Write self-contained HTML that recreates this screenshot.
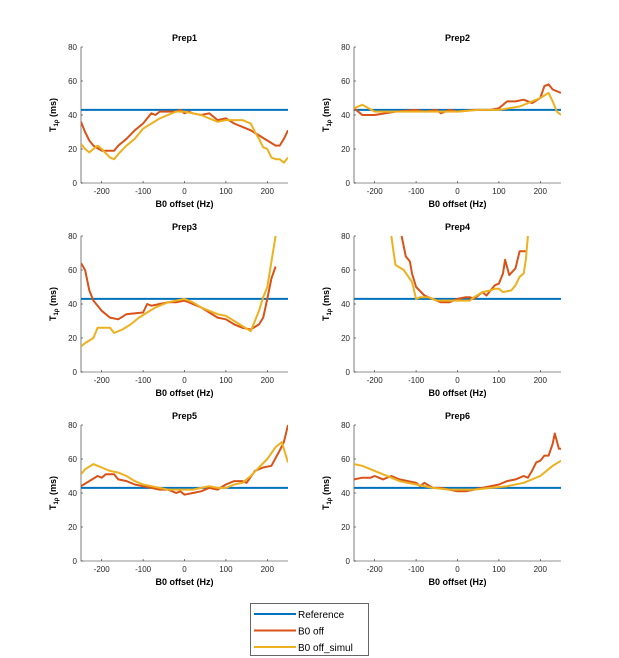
<!DOCTYPE html>
<html><head><meta charset="utf-8"><style>
body{margin:0;background:#fff;}
svg{display:block;font-family:"Liberation Sans",Arial,sans-serif;}
</style></head><body>
<svg id="fig" width="619" height="658" viewBox="0 0 619 658"></svg>
<script>
const titles=["Prep1","Prep2","Prep3","Prep4","Prep5","Prep6"];
const xTicks=[-200,-100,0,100,200];
const yTicks=[0,20,40,60,80];
const refValue=43;
const p1offX=[-250,-240,-230,-220,-200,-180,-170,-160,-140,-120,-100,-90,-80,-70,-60,-40,-20,-10,0,10,20,40,60,80,100,120,140,160,180,200,220,230,240,250];
const p1offY=[36,30,25,22,19,19,19,22,26,31,35,38,41,40,42,42,42,43,41,42,41,40,41,37,38,35,33,31,28,25,22,22,26,31];
const p1simX=[-250,-240,-230,-210,-200,-180,-170,-160,-140,-120,-100,-80,-60,-40,-20,0,20,40,60,80,100,120,140,160,170,180,190,200,210,220,230,240,250];
const p1simY=[23,20,18,22,20,15,14,17,22,26,32,35,38,40,42,42,41,40,38,36,37,37,37,35,30,26,21,20,15,14,14,12,15];
const p2offX=[-250,-230,-200,-150,-100,-80,-50,-40,-20,0,40,80,100,120,140,160,180,200,210,220,230,250];
const p2offY=[44,40,40,42,43,42,43,41,43,42,43,43,44,48,48,49,47,50,57,58,55,53];
const p2simX=[-250,-230,-200,-150,-100,0,50,100,150,180,200,220,230,240,250];
const p2simY=[44,46,42,42,42,42,43,43,45,48,50,53,48,42,40];
const p3offX=[-250,-240,-230,-220,-200,-180,-160,-140,-100,-90,-80,-60,-40,-20,0,20,40,60,80,100,120,140,160,180,190,200,210,220];
const p3offY=[64,60,48,42,36,32,31,34,35,40,39,40,41,41,42,40,38,35,32,31,28,26,25,28,32,43,55,62];
const p3simX=[-250,-240,-220,-210,-190,-180,-170,-150,-130,-110,-90,-70,-40,-20,0,20,40,60,80,100,120,140,160,170,180,190,200,220];
const p3simY=[15,17,20,26,26,26,23,25,28,32,35,38,41,42,43,41,38,36,34,33,30,27,24,30,36,44,50,80];
const p4offX=[-135,-125,-115,-110,-100,-80,-60,-40,-20,0,20,30,40,60,70,80,90,100,110,115,125,140,150,165];
const p4offY=[80,68,65,58,50,45,43,41,41,43,44,44,43,47,45,48,51,52,58,66,57,61,71,71];
const p4simX=[-160,-150,-130,-110,-100,-90,-70,-50,-30,0,20,30,40,60,80,90,100,110,130,140,150,160,165,170];
const p4simY=[80,63,60,53,43,44,44,42,42,42,42,42,44,47,48,49,49,47,48,51,56,58,66,80];
const p5offX=[-250,-230,-210,-200,-190,-170,-160,-140,-120,-100,-80,-60,-40,-20,-10,0,20,40,60,80,100,120,140,150,170,190,210,230,240,250];
const p5offY=[44,47,50,49,51,51,48,47,45,44,43,42,42,40,41,39,40,41,43,42,45,47,47,46,53,55,56,65,70,80];
const p5simX=[-250,-240,-220,-200,-180,-160,-140,-120,-100,-80,-60,-40,-20,0,20,40,60,80,100,120,140,160,180,200,220,235,250];
const p5simY=[51,54,57,55,53,52,50,47,45,44,43,42,42,42,42,43,44,43,43,45,46,50,55,60,67,70,58];
const p6offX=[-250,-230,-210,-200,-180,-160,-140,-120,-100,-90,-80,-60,-40,-20,0,20,40,60,80,100,120,140,160,170,180,190,200,210,220,230,235,245,250];
const p6offY=[48,49,49,50,48,50,48,47,46,44,46,43,43,42,41,41,42,43,44,45,47,48,50,49,53,58,59,62,62,69,75,66,66];
const p6simX=[-250,-230,-200,-180,-160,-140,-100,-60,-20,0,40,80,120,160,200,230,250];
const p6simY=[57,56,53,51,49,47,45,43,42,42,42,43,44,46,50,56,59];
const offXs=[p1offX,p2offX,p3offX,p4offX,p5offX,p6offX];
const offYs=[p1offY,p2offY,p3offY,p4offY,p5offY,p6offY];
const simXs=[p1simX,p2simX,p3simX,p4simX,p5simX,p6simX];
const simYs=[p1simY,p2simY,p3simY,p4simY,p5simY,p6simY];

const NS="http://www.w3.org/2000/svg";
const svg=document.getElementById("fig");
function mk(tag,attrs,parent){const e=document.createElementNS(NS,tag);for(const k in attrs)e.setAttribute(k,attrs[k]);(parent||svg).appendChild(e);return e;}
const lefts=[81,354], tops=[47,236,425], W=207, H=136;
for(let i=0;i<6;i++){
  const L=lefts[i%2], T=tops[Math.floor(i/2)];
  const xs=v=>L+(v+250)/500*W, ys=v=>T+H-(v/80)*H;
  const g=mk("g",{});
  
  
  const cp=mk("clipPath",{id:"c"+i},g);mk("rect",{x:L,y:T-1,width:W,height:H+1},cp);
  const t=mk("text",{x:L+W/2,y:T-6,"text-anchor":"middle","font-size":"9","font-weight":"bold",fill:"#000"},g);t.textContent=titles[i];
  
  
  const ax=mk("path",{d:`M${L},${T}V${T+H}H${L+W}`,stroke:"#262626","stroke-width":"0.6",fill:"none"},g);
  
  
  xTicks.forEach(v=>{mk("line",{x1:xs(v),x2:xs(v),y1:T+H,y2:T+H-2,stroke:"#262626","stroke-width":"0.6"},g);
    const tx=mk("text",{x:xs(v),y:T+H+11,"text-anchor":"middle","font-size":"8",fill:"#262626"},g);tx.textContent=v;
    
    });
  yTicks.forEach(v=>{mk("line",{x1:L,x2:L+2,y1:ys(v),y2:ys(v),stroke:"#262626","stroke-width":"0.6"},g);
    const ty=mk("text",{x:L-4,y:ys(v)+3,"text-anchor":"end","font-size":"8",fill:"#262626"},g);ty.textContent=v;
    
    });
  const xl=mk("text",{x:L+W/2,y:T+H+24,"text-anchor":"middle","font-size":"9","font-weight":"bold",fill:"#000"},g);xl.textContent="B0 offset (Hz)";
  
  
  const yl=mk("text",{transform:`translate(${L-25},${T+H/2}) rotate(-90)`,"text-anchor":"middle","font-size":"9","font-weight":"bold",fill:"#000"},g);
  yl.innerHTML='T<tspan font-size="6" dy="2">1ρ</tspan><tspan dy="-2"> (ms)</tspan>';
  
  
  const cg=mk("g",{"clip-path":`url(#c${i})`},g);
  const ref=mk("line",{x1:L,x2:L+W,y1:ys(refValue),y2:ys(refValue),stroke:"#0072BD","stroke-width":"2"},cg);
  
  
  const pts=(X,Y)=>X.map((x,k)=>xs(x).toFixed(1)+","+ys(Y[k]).toFixed(1)).join(" ");
  const s1=mk("polyline",{points:pts(offXs[i],offYs[i]),fill:"none",stroke:"#D95319","stroke-width":"2","stroke-linejoin":"round"},cg);
  
  
  const s2=mk("polyline",{points:pts(simXs[i],simYs[i]),fill:"none",stroke:"#EDB120","stroke-width":"2","stroke-linejoin":"round"},cg);
  
  
}
const lg=mk("g",{});


mk("rect",{x:250.5,y:603.5,width:118,height:52,fill:"#fff",stroke:"#262626","stroke-width":"0.7"},lg);
const legLabels=["Reference","B0 off","B0 off_simul"], legColors=["#0072BD","#D95319","#EDB120"];
legLabels.forEach((s,k)=>{const y=614+k*16.5;
  mk("line",{x1:254,x2:296,y1:y,y2:y,stroke:legColors[k],"stroke-width":"2"},lg);
  const t=mk("text",{x:298,y:y+4,"font-size":"10",fill:"#000"},lg);t.textContent=s;
  
  });
</script>
</body></html>
